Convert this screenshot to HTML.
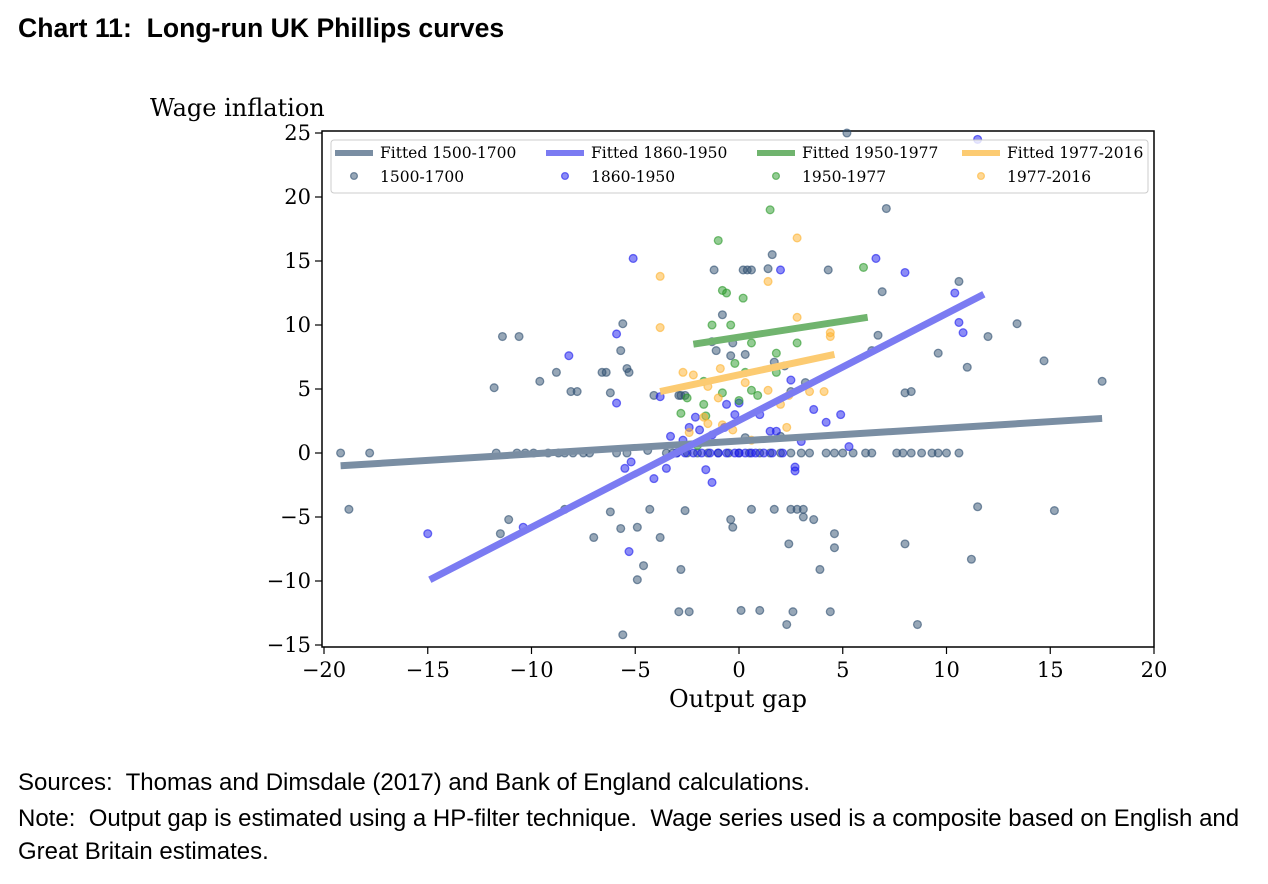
<!DOCTYPE html>
<html><head><meta charset="utf-8"><style>
body{margin:0;background:#fff;width:1268px;height:884px;overflow:hidden;position:relative;font-family:"Liberation Sans",sans-serif}
.t{position:absolute;white-space:pre}
</style></head><body>
<div class="t" style="left:18px;top:13px;font-size:26.6px;font-weight:bold">Chart 11:  Long-run UK Phillips curves</div>
<div class="t" style="left:18px;top:769px;font-size:24px">Sources:  Thomas and Dimsdale (2017) and Bank of England calculations.</div>
<div class="t" style="left:18px;top:802px;font-size:24px;line-height:33px">Note:  Output gap is estimated using a HP-filter technique.  Wage series used is a composite based on English and
Great Britain estimates.</div>
<svg id="c" width="1268" height="884" style="position:absolute;left:0;top:0" xmlns="http://www.w3.org/2000/svg" font-family="'DejaVu Serif','Liberation Serif',serif"></svg>
<script>
const xTicks=[-20,-15,-10,-5,0,5,10,15,20];
const yTicks=[25,20,15,10,5,0,-5,-10,-15];
const slateX=[-19.2,-18.8,-17.8,-11.8,-11.7,-11.5,-11.4,-11.1,-10.6,-10.7,-10.3,-9.9,-9.2,-9.6,-8.8,-8.4,-8.1,-7.8,-8.7,-8.4,-8.0,-7.5,-7.2,-7.0,-6.6,-6.4,-6.2,-6.2,-5.9,-5.7,-5.6,-5.7,-5.4,-5.3,-5.6,-5.4,-4.9,-4.9,-4.6,-4.4,-4.3,-3.8,-4.1,-3.5,-3.2,-2.9,-2.8,-2.6,-2.9,-2.4,-2.6,-2.8,-1.2,-1.3,-1.1,-0.8,-0.3,-0.4,0.2,0.4,0.6,0.3,0.3,0.1,0.6,-0.4,-0.3,1.0,1.4,1.6,1.7,2.0,2.2,1.7,2.4,2.5,2.8,3.1,2.6,2.3,2.5,3.1,3.2,3.4,3.6,3.9,4.2,4.6,5.0,5.5,4.3,4.4,4.6,4.6,5.2,6.1,6.4,6.4,6.7,6.9,7.1,7.6,7.9,8.3,8.0,8.0,8.3,8.6,8.8,9.3,9.6,10.0,10.6,9.6,10.6,11.0,11.2,11.5,12.0,13.4,14.7,15.2,17.5,-3.0,-2.5,-2.0,-1.5,-1.0,-0.5,0,0.5,1.0,1.5,2.0,2.5,3.0];
const slateY=[0,-4.4,0,5.1,0,-6.3,9.1,-5.2,9.1,0,0,0,0,5.6,6.3,-4.4,4.8,4.8,0,0,0,0,0,-6.6,6.3,6.3,-4.6,4.7,0,8.0,10.1,-5.9,6.6,6.3,-14.2,0,-9.9,-5.8,-8.8,0.2,-4.4,-6.6,4.5,0,0,4.5,4.5,4.5,-12.4,-12.4,-4.5,-9.1,14.3,8.7,8.0,10.8,8.6,7.6,14.3,14.3,14.3,7.7,1.2,-12.3,-4.4,-5.2,-5.8,-12.3,14.4,15.5,7.1,1.3,6.8,-4.4,-7.1,-4.4,-4.4,-4.4,-12.4,-13.4,4.8,-5.0,5.5,0,-5.2,-9.1,0,0,0,0,14.3,-12.4,-7.4,-6.3,25,0,0,8.0,9.2,12.6,19.1,0,0,0,-7.1,4.7,4.8,-13.4,0,0,0,0,0,7.8,13.4,6.7,-8.3,-4.2,9.1,10.1,7.2,-4.5,5.6,0,0,0,0,0,0,0,0,0,0,0,0,0];
const blueX=[-5.1,-15.0,-10.4,-8.2,-5.9,-5.9,-5.3,-5.5,-5.2,-4.1,-3.8,-3.5,-3.3,-2.7,-2.4,-2.1,-1.9,-1.3,-1.6,-1.3,-0.7,-0.6,-0.2,0,0,0.3,0.8,1.0,1.5,1.8,2.0,2.7,2.7,2.5,3.0,3.6,4.2,4.9,5.3,6.6,8.0,10.4,10.6,10.8,11.5,-3.0,-2.6,-2.2,-1.8,-1.4,-1.0,-0.6,-0.2,0.6,1.2,1.6,2.1];
const blueY=[15.2,-6.3,-5.8,7.6,3.9,9.3,-7.7,-1.2,-0.7,-2.0,4.4,-1.2,1.3,1.0,2.0,2.8,1.8,1.4,-1.3,-2.3,2.0,3.8,3.0,3.9,0,0,0,3.0,1.7,1.7,14.3,-1.1,-1.4,5.7,0.9,3.4,2.4,3.0,0.5,15.2,14.1,12.5,10.2,9.4,24.5,0,0,0,0,0,0,0,0,0,0,0,0];
const greenX=[-1.0,1.5,-0.8,-0.6,0.2,-0.4,-1.3,0.6,1.8,2.8,-0.2,0.3,1.8,-1.7,-0.8,-2.5,-1.7,-1.6,0,0.6,0.9,6.0,-2.0,-2.8];
const greenY=[16.6,19.0,12.7,12.5,12.1,10.0,10.0,8.6,7.8,8.6,7.0,6.3,6.3,5.6,4.7,4.3,3.8,2.9,4.1,4.9,4.5,14.5,0.6,3.1];
const orangeX=[-3.8,-3.8,1.4,2.8,2.8,4.4,4.4,-2.7,-2.2,-0.9,-1.5,-1.0,-1.7,-1.5,0.3,1.4,2.0,2.3,3.4,4.1,2.4,-0.8,-0.3,-2.4,0.6];
const orangeY=[13.8,9.8,13.4,16.8,10.6,9.4,9.1,6.3,6.1,6.6,5.2,4.3,2.8,2.3,5.5,4.9,3.8,2.0,4.8,4.8,4.5,2.2,1.8,1.6,1.0];
const fitSlateX=[-19.2,17.5], fitSlateY=[-1.0,2.7];
const fitBlueX=[-14.9,11.8], fitBlueY=[-9.9,12.4];
const fitGreenX=[-2.2,6.2], fitGreenY=[8.5,10.6];
const fitOrangeX=[-3.8,4.6], fitOrangeY=[4.8,7.7];

const svg=document.getElementById('c');const NS='http://www.w3.org/2000/svg';
const X0=324,X1=1154,Y0=133,Y1=645;
function sx(v){return X0+(v+20)/40*(X1-X0);}
function sy(v){return Y0+(25-v)/40*(Y1-Y0);}
function mk(tag,at,txt){const e=document.createElementNS(NS,tag);for(const k in at)e.setAttribute(k,at[k]);if(txt!==undefined)e.textContent=txt;svg.appendChild(e);return e;}
let fr=mk('rect',{x:322,y:131,width:832,height:516,fill:'none',stroke:'#000','stroke-width':1.5});


xTicks.forEach(v=>{mk('line',{x1:sx(v),x2:sx(v),y1:647,y2:654,stroke:'#000','stroke-width':1.2});
 let t=mk('text',{x:sx(v),y:677,'text-anchor':'middle','font-size':21},String(v).replace('-','\u2212'));
 
 });
yTicks.forEach(v=>{mk('line',{x1:315,x2:322,y1:sy(v),y2:sy(v),stroke:'#000','stroke-width':1.2});
 let t=mk('text',{x:311,y:sy(v)+7,'text-anchor':'end','font-size':21},String(v).replace('-','\u2212'));
 
 });
let yt=mk('text',{x:150,y:116,'font-size':24},'Wage inflation');


let xt=mk('text',{x:738,y:707,'text-anchor':'middle','font-size':24},'Output gap');


function pts(xs,ys,c,name){for(let i=0;i<xs.length;i++){let p=mk('circle',{cx:sx(xs[i]),cy:sy(ys[i]),r:3.9,fill:c,'fill-opacity':0.5,stroke:c,'stroke-opacity':0.6,'stroke-width':1.3});
 
 }}
function fit(xs,ys,c,name){let l=mk('line',{x1:sx(xs[0]),y1:sy(ys[0]),x2:sx(xs[1]),y2:sy(ys[1]),stroke:c,'stroke-width':7});
 
 }
pts(slateX,slateY,'#2f4f6f','point-1500-1700');
pts(blueX,blueY,'#1a1aee','point-1860-1950');
pts(greenX,greenY,'#2a9a2a','point-1950-1977');
pts(orangeX,orangeY,'#fdb22e','point-1977-2016');
fit(fitSlateX,fitSlateY,'#7a8ea3','fitted-1500-1700');
fit(fitBlueX,fitBlueY,'#7b7bf2','fitted-1860-1950');
fit(fitGreenX,fitGreenY,'#70b46e','fitted-1950-1977');
fit(fitOrangeX,fitOrangeY,'#fccb72','fitted-1977-2016');
let lg=mk('rect',{x:331,y:140,width:817,height:53,fill:'#fff','fill-opacity':0.8,stroke:'#ccc',rx:3});


const lgLabels=['1500-1700','1860-1950','1950-1977','1977-2016'];
const lgCols=['#7a8ea3','#7b7bf2','#70b46e','#fccb72'];
const lgPt=['#2f4f6f','#1a1aee','#2a9a2a','#fdb22e'];
const lgX=[335,546,757,962];
for(let i=0;i<4;i++){
 mk('line',{x1:lgX[i],x2:lgX[i]+38,y1:153,y2:153,stroke:lgCols[i],'stroke-width':6});
 let a=mk('text',{x:lgX[i]+45,y:158,'font-size':15.5},'Fitted '+lgLabels[i]);
 
 
 mk('circle',{cx:lgX[i]+19,cy:176,r:3.4,fill:lgPt[i],'fill-opacity':0.5,stroke:lgPt[i],'stroke-opacity':0.6,'stroke-width':1.3});
 let b=mk('text',{x:lgX[i]+45,y:182,'font-size':15.5},lgLabels[i]);
 
 
}
</script>
</body></html>
